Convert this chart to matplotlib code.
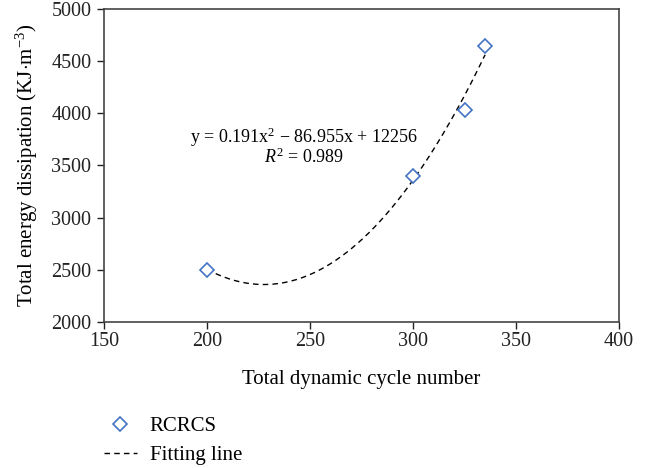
import numpy as np
import matplotlib.pyplot as plt

plt.rcParams['font.family'] = ['Liberation Serif', 'DejaVu Serif']
plt.rcParams['mathtext.fontset'] = 'custom'
plt.rcParams['mathtext.rm'] = 'Liberation Serif'
plt.rcParams['mathtext.it'] = 'Liberation Serif:italic'

# measured points
cycles = [200, 300, 325, 335]
energy = [2500, 3400, 4030, 4650]

# fitting line coefficients as printed on the chart
a, b, c = 0.191, -86.955, 12256

fig = plt.figure(figsize=(6.5, 4.68), dpi=100)
ax = fig.add_axes([104 / 650, 146 / 468, 515 / 650, 313 / 468])

xf = np.linspace(min(cycles), max(cycles), 200)
yf = a * xf ** 2 + b * xf + c
fit, = ax.plot(xf, yf, color='black', linestyle=(0, (4, 3)), linewidth=1.0)
pts, = ax.plot(cycles, energy, linestyle='none', marker='D', markersize=7.5,
               markerfacecolor='white', markeredgecolor='#4472C4', markeredgewidth=1.2)

ax.set_xlim(150, 400)
ax.set_ylim(2000, 5000)
ax.set_xticks([150, 200, 250, 300, 350, 400])
ax.set_yticks([2000, 2500, 3000, 3500, 4000, 4500, 5000])
ax.tick_params(direction='out', length=5, width=1, labelsize=14.5, colors='#222222',
               top=False, right=False, pad=4)
ax.tick_params(axis='x', pad=2)
for s in ax.spines.values():
    s.set_color('#444444')
    s.set_linewidth(1.2)

ax.set_xlabel('Total dynamic cycle number', fontsize=15, labelpad=14)
ax.set_ylabel(r'Total energy dissipation (KJ$\cdot$m$^{-3}$)', fontsize=15, labelpad=8)

ax.text(247, 3770, r'y = 0.191x$^2$ $-$ 86.955x + 12256', fontsize=13, ha='center', va='center')
ax.text(247, 3580, r'$R^2$ = 0.989', fontsize=13, ha='center', va='center')

fig.legend([pts, fit], ['RCRCS', 'Fitting line'], loc='upper left',
           bbox_to_anchor=(85 / 650, 1 - 398 / 468), frameon=False, fontsize=15,
           handlelength=1.6, labelspacing=0.45, handletextpad=0.6)

fig.savefig('out.png', dpi=100)
